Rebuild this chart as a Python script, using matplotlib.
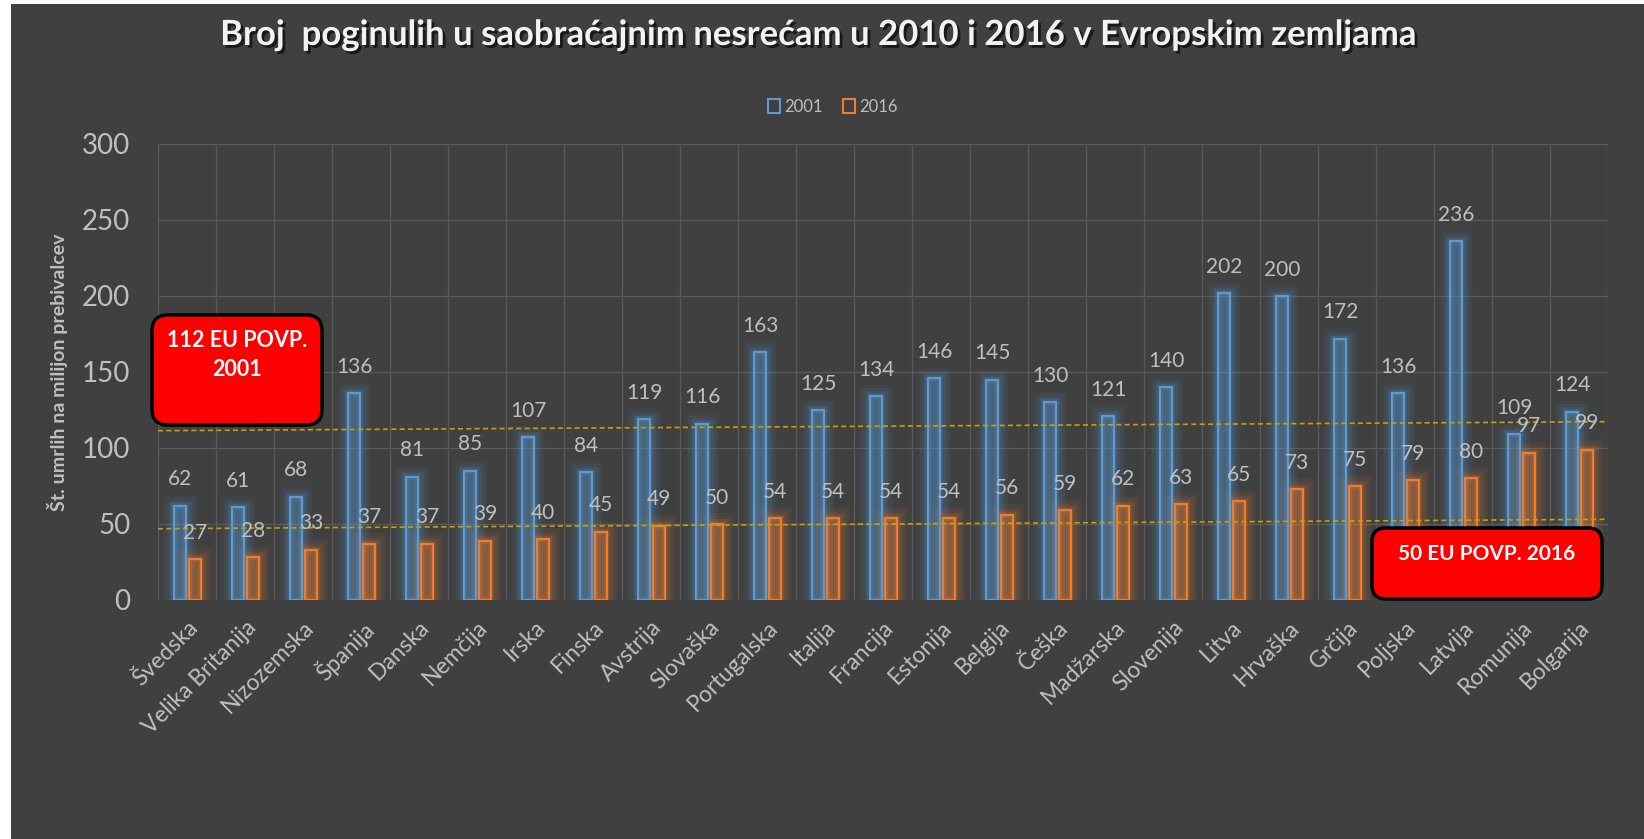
import matplotlib.pyplot as plt
import matplotlib.transforms as mtransforms
import numpy as np
from matplotlib.patches import FancyBboxPatch, Patch, Rectangle
import matplotlib.patheffects as pe

plt.rcParams["font.family"] = ["Lato", "DejaVu Sans"]

countries = ["Švedska", "Velika Britanija", "Nizozemska", "Španija", "Danska",
             "Nemčija", "Irska", "Finska", "Avstrija", "Slovaška", "Portugalska",
             "Italija", "Francija", "Estonija", "Belgija", "Češka", "Madžarska",
             "Slovenija", "Litva", "Hrvaška", "Grčija", "Poljska", "Latvija",
             "Romunija", "Bolgarija"]
deaths_2001 = [62, 61, 68, 136, 81, 85, 107, 84, 119, 116, 163, 125, 134, 146,
               145, 130, 121, 140, 202, 200, 172, 136, 236, 109, 124]
deaths_2016 = [27, 28, 33, 37, 37, 39, 40, 45, 49, 50, 54, 54, 54, 54, 56, 59,
               62, 63, 65, 73, 75, 79, 80, 97, 99]
# dashed average lines, value at the left and right edge of the plot
avg_2001_line = [111.4, 117.3]
avg_2016_line = [46.9, 53.1]

BG = "#404040"
BLUE = "#5B9BD5"
ORANGE = "#ED7D31"
GREY = "#BFBFBF"

fig = plt.figure(figsize=(16.44, 8.39), dpi=100, facecolor="white")
fig.patches.append(Rectangle((11 / 1644, 0), 1, 1 - 4 / 839, transform=fig.transFigure,
                             facecolor=BG, edgecolor="none", zorder=-10))

ax = fig.add_axes([158 / 1644, 1 - 600 / 839, 1450 / 1644, 456 / 839])
ax.set_facecolor(BG)
ax.patch.set_alpha(0)

x = np.arange(len(countries))
w = 0.2

# bars with a soft glow
for vals, pos, col in [(deaths_2001, x - 0.12, BLUE), (deaths_2016, x + 0.135, ORANGE)]:
    for lw, a in [(16, 0.05), (12, 0.07), (8, 0.1), (4.5, 0.15)]:
        ax.bar(pos, vals, width=w, facecolor="none", edgecolor=col, linewidth=lw,
               alpha=a, zorder=2)
    ax.bar(pos, vals, width=w, facecolor=col + "48", edgecolor=col, linewidth=1.6, zorder=3)
    for p, v in zip(pos, vals):
        ax.annotate(str(v), (p, v), xytext=(0, 19), textcoords="offset points",
                    ha="center", va="center", fontsize=15, color=GREY, zorder=5)

ax.plot([-0.5, len(countries) - 0.5], avg_2001_line, color="#C9A000", lw=1.2,
        dashes=(3, 2), zorder=4)
ax.plot([-0.5, len(countries) - 0.5], avg_2016_line, color="#C9A000", lw=1.2,
        dashes=(3, 2), zorder=4)

ax.set_xlim(-0.5, len(countries) - 0.5)
ax.set_ylim(0, 300)
ax.set_yticks(range(0, 301, 50))
ax.set_xticks(x)
ax.set_xticks(np.arange(-0.5, len(countries), 1), minor=True)
ax.set_xticklabels(countries, rotation=45, ha="right", va="top", rotation_mode="anchor",
                   fontsize=16.5, color=GREY)
shift = mtransforms.ScaledTranslation(8 / 100, 0, fig.dpi_scale_trans)
for lab in ax.get_xticklabels():
    lab.set_transform(lab.get_transform() + shift)
ax.tick_params(axis="x", which="both", length=0, pad=12)
ax.tick_params(axis="y", length=0, pad=20, labelsize=20, labelcolor=GREY)
ax.grid(axis="y", color="#595959", lw=1, zorder=0)
ax.grid(axis="x", which="minor", color="#595959", lw=1, zorder=0)
ax.grid(axis="x", which="major", visible=False)
for s in ax.spines.values():
    s.set_visible(False)
ax.set_ylabel("Št. umrlih na milijon prebivalcev", fontsize=14, fontweight="bold",
              color=GREY)
ax.yaxis.set_label_coords(-0.062, 0.5)

fig.text(0.498, 1 - 35 / 839, "Broj  poginulih u saobraćajnim nesrećam u 2010 i 2016 v Evropskim zemljama",
         ha="center", va="center", fontsize=25, fontweight="bold", color="#F2F2F2",
         path_effects=[pe.withSimplePatchShadow(offset=(2, -2), shadow_rgbFace="black", alpha=0.6)])

handles = [Patch(facecolor=BG, edgecolor=BLUE, lw=1.5, label="2001"),
           Patch(facecolor=BG, edgecolor=ORANGE, lw=1.5, label="2016")]
fig.legend(handles=handles, loc="center", bbox_to_anchor=(833 / 1644, 1 - 107 / 839),
           ncol=2, frameon=False, fontsize=12, labelcolor=GREY,
           handlelength=0.7, handleheight=0.9, handletextpad=0.3, columnspacing=1.2)

# red annotation boxes (in inches on the figure)
box1 = FancyBboxPatch((1.52, 4.14), 1.70, 1.10, boxstyle="round,pad=0,rounding_size=0.16",
                      transform=fig.dpi_scale_trans, facecolor="#FF0000",
                      edgecolor="black", lw=2.5, zorder=10)
box2 = FancyBboxPatch((13.72, 2.40), 2.30, 0.71, boxstyle="round,pad=0,rounding_size=0.14",
                      transform=fig.dpi_scale_trans, facecolor="#FF0000",
                      edgecolor="black", lw=2.5, zorder=10)
fig.patches.extend([box1, box2])
fig.text(237 / 1644, 1 - 355 / 839, "112 EU POVP.\n2001", ha="center", va="center",
         fontsize=15.5, fontweight="bold", color="white", linespacing=1.45, zorder=11)
fig.text(1487 / 1644, 1 - 554 / 839, "50 EU POVP. 2016", ha="center", va="center",
         fontsize=15, fontweight="bold", color="white", zorder=11)

fig.savefig("out.png", dpi=100, facecolor=fig.get_facecolor())
